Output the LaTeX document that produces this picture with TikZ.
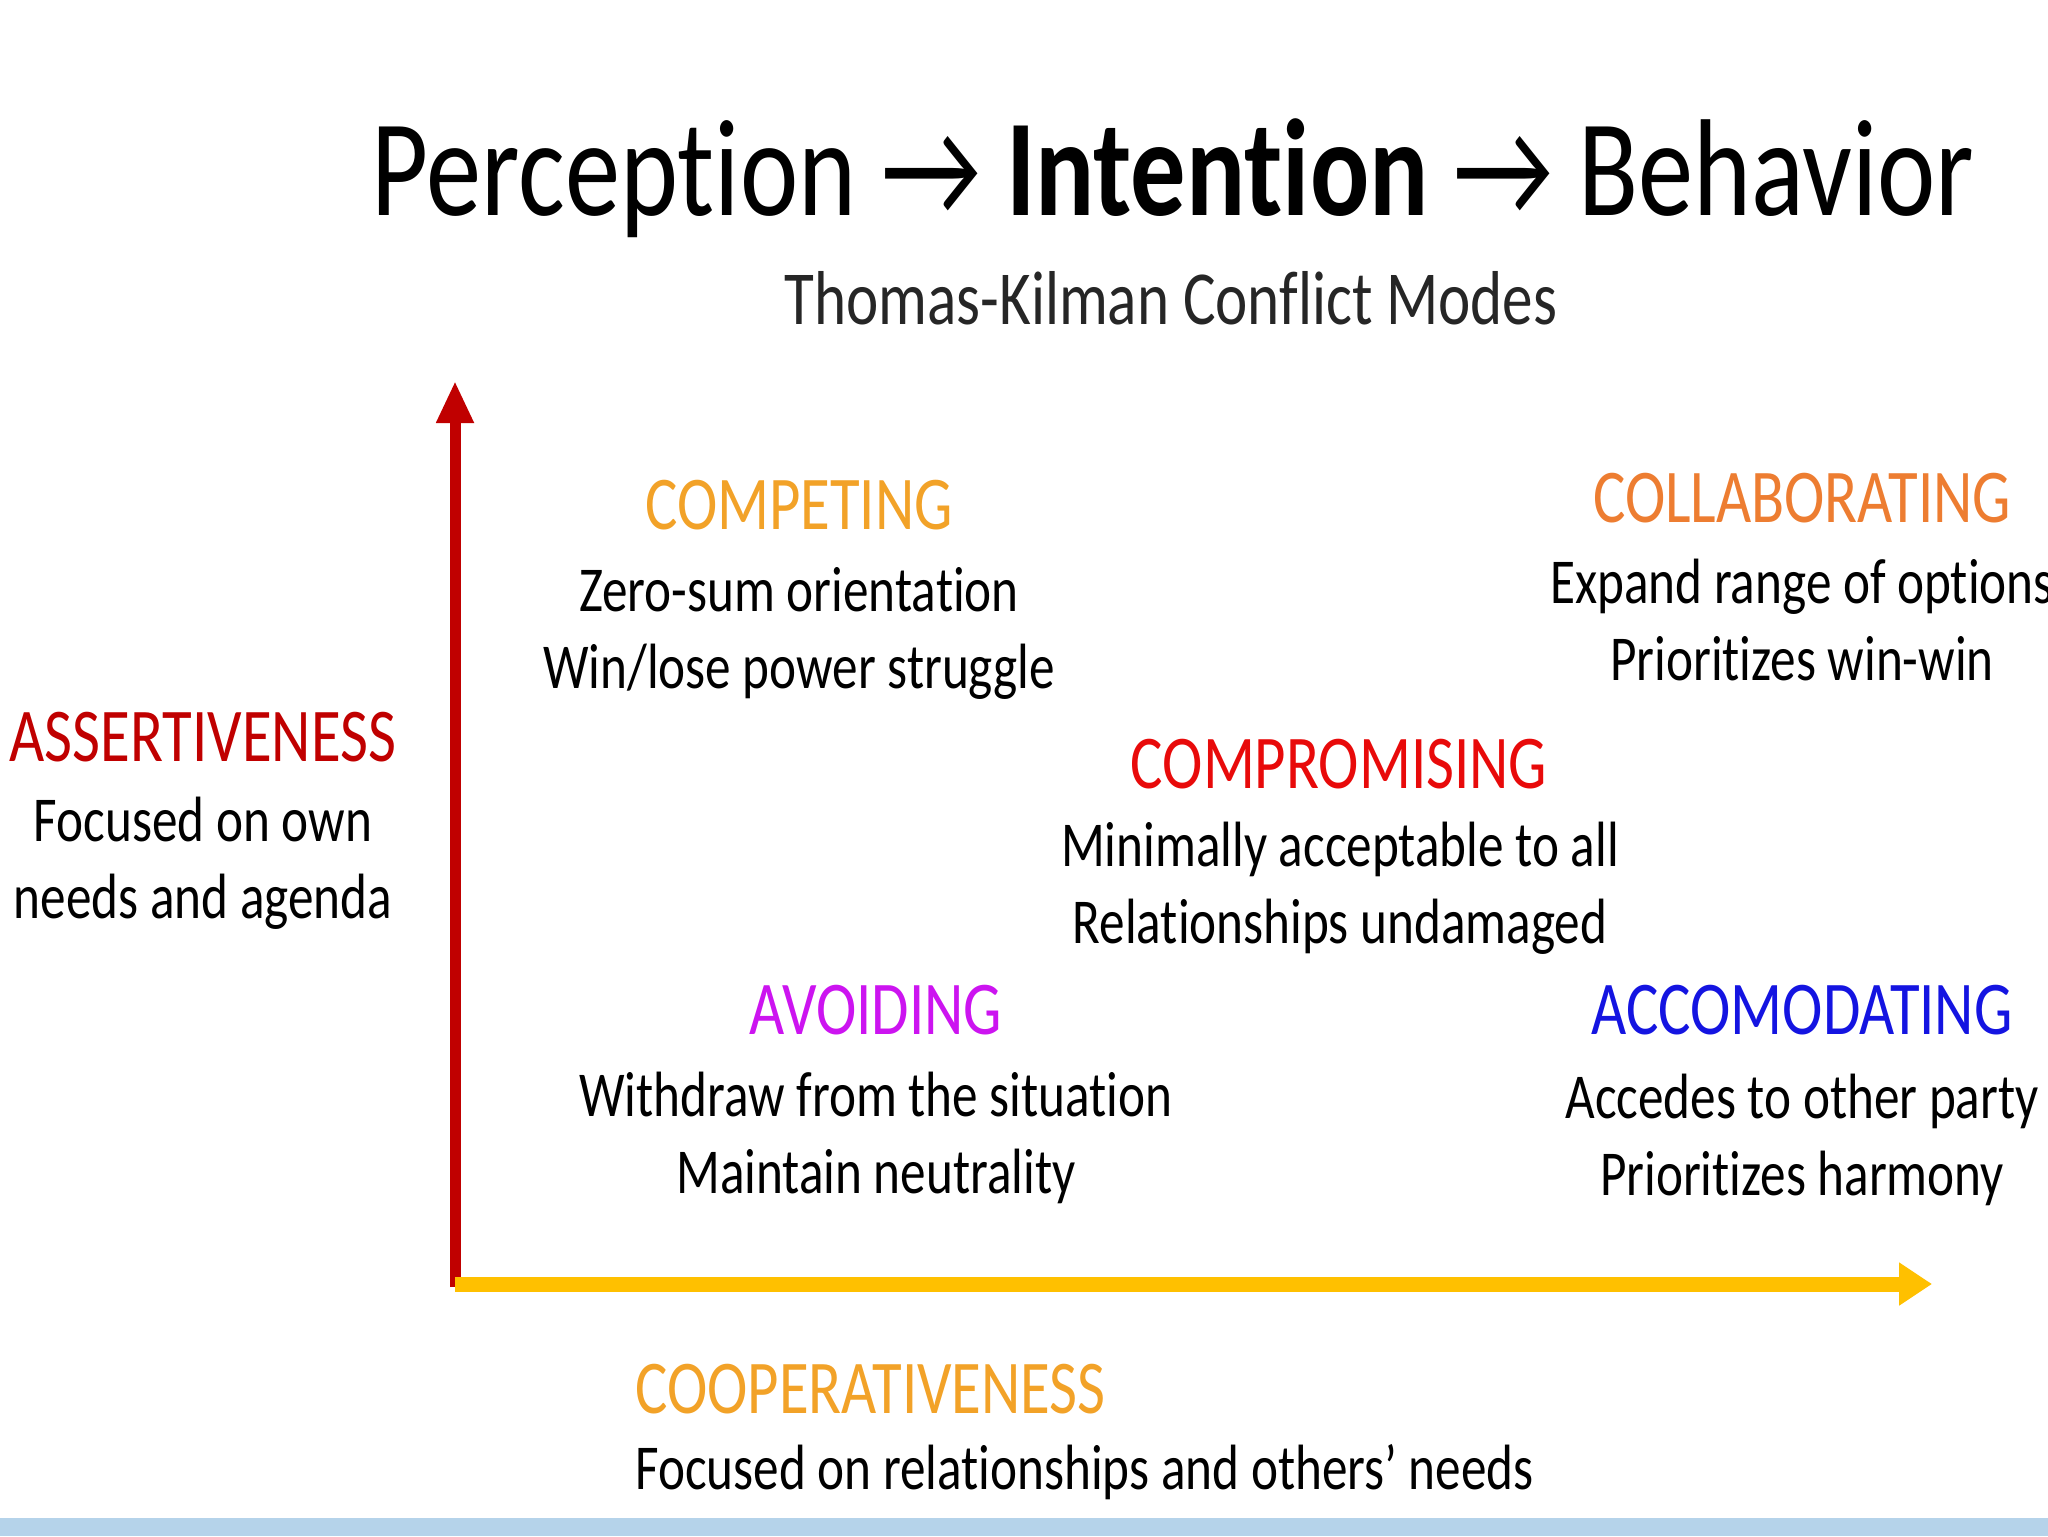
\documentclass[tikz,border=0pt]{standalone}
\usepackage{fontspec}
\setmainfont{Carlito}[FakeStretch=0.8, Ligatures=NoCommon]
\usetikzlibrary{arrows.meta}
\definecolor{axisred}{RGB}{192,0,0}
\definecolor{axisyellow}{RGB}{255,192,0}
\definecolor{competeorange}{RGB}{242,162,40}
\definecolor{collaborange}{RGB}{237,125,49}
\definecolor{compromred}{RGB}{232,10,10}
\definecolor{avoidpurple}{RGB}{204,20,240}
\definecolor{accomblue}{RGB}{20,20,225}
\definecolor{bandblue}{RGB}{181,211,234}
\tikzset{
	modename/.style={font=\fontsize{38}{46}\selectfont, anchor=base, inner sep=0pt},
	modetext/.style={font=\fontsize{32}{38.5}\selectfont, align=center, anchor=base, inner sep=0pt},
}
\begin{document}
\begin{tikzpicture}[x=0.5pt,y=-0.5pt]
	\useasboundingbox (0,0) rectangle (2048,1536);
	\fill [bandblue] (0,1518) rectangle (2048,1536);
	% title
	\node [anchor=base, inner sep=0pt, font=\fontsize{69}{78}\selectfont] (title) at (1173,215) {Perception → \textbf{Intention} → Behavior};
	\node [anchor=base, inner sep=0pt, font=\fontsize{38.2}{46}\selectfont, text=black!85] (subtitle) at (1171,324) {Thomas-Kilman Conflict Modes};
	% axes
	\coordinate (origin) at (455,1287);
	\coordinate (ytop) at (455,381);
	\coordinate (xstart) at (455,1284);
	\coordinate (xend) at (1932,1284);
	\draw [axisred, line width=5.5pt, -{Triangle[length=21pt,width=17.5pt]}] (origin) -- (ytop);
	\draw [axisyellow, line width=7.5pt, -{Triangle[length=16.5pt,width=20.5pt]}] (xstart) -- (xend);
	% axis labels (base of a two-line text = its last line)
	\node [modename, text=axisred] (assert) at (203,761) {ASSERTIVENESS};
	\node [modetext] (assertdesc) at (203,918) {Focused on own\\needs and agenda};
	\node [modename, text=competeorange, anchor=base west] (coop) at (635,1413) {COOPERATIVENESS};
	\node [modetext, anchor=base west] (coopdesc) at (635,1489) {Focused on relationships and others’ needs};
	% modes
	\node [modename, text=competeorange] (competing) at (799,529) {COMPETING};
	\node [modetext] (competingdesc) at (799,688) {Zero-sum orientation\\Win/lose power struggle};
	\node [modename, text=collaborange] (collab) at (1802,522) {COLLABORATING};
	\node [modetext] (collabdesc) at (1802,680) {Expand range of options\\Prioritizes win-win};
	\node [modename, text=compromred] (comprom) at (1339,788) {COMPROMISING};
	\node [modetext] (compromdesc) at (1340,943) {Minimally acceptable to all\\Relationships undamaged};
	\node [modename, text=avoidpurple] (avoid) at (876,1034) {AVOIDING};
	\node [modetext] (avoiddesc) at (876,1193) {Withdraw from the situation\\Maintain neutrality};
	\node [modename, text=accomblue] (accom) at (1802,1034) {ACCOMODATING};
	\node [modetext] (accomdesc) at (1802,1195) {Accedes to other party\\Prioritizes harmony};
\end{tikzpicture}
\end{document}
